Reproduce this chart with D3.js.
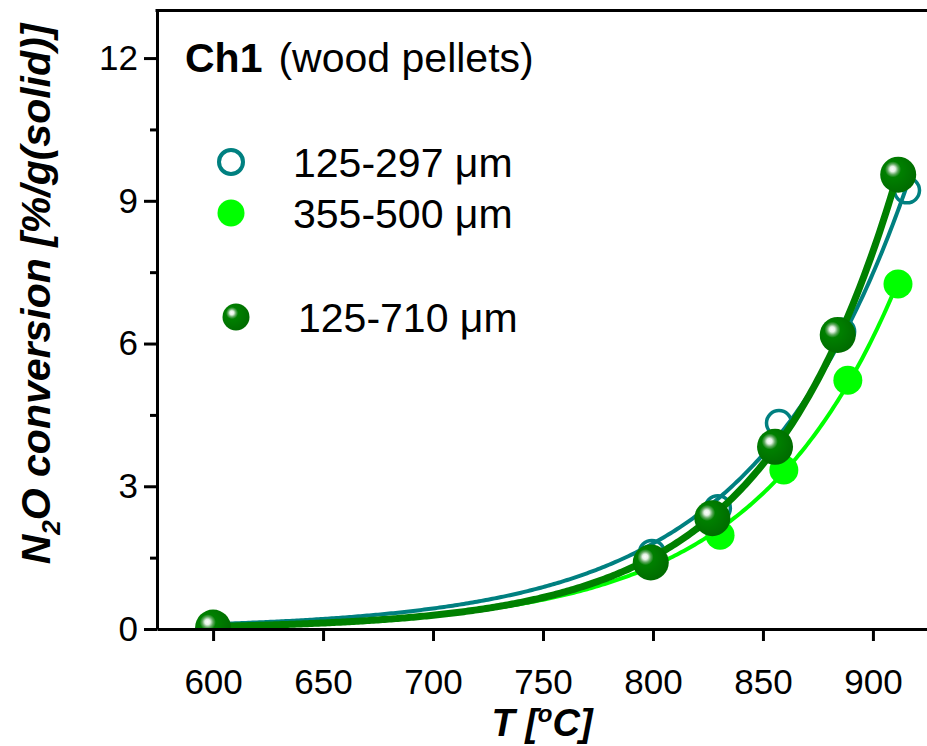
<!DOCTYPE html>
<html lang="en">
<head>
	<meta charset="UTF-8"/>
	<title>N2O conversion vs temperature</title>
	<script src="https://d3js.org/d3.v7.min.js"></script>
	<style>
		body { margin: 0; background: #fff; }
		text { font-family: Arial, "Liberation Sans", sans-serif; fill: #000; }
	</style>
</head>
<body>
<script>
	//Size of the svg container
	var w = 927;
	var h = 746;

	//Data: temperature (oC) and N2O conversion (%/g solid)
	var tempSmall = [600, 799.5, 829.5, 857.3, 886, 915.5];
	var convSmall = [0.03, 1.6, 2.54, 4.33, 6.25, 9.22];

	var tempMid = [600, 800, 830.5, 859.5, 888.6, 911.4];
	var convMid = [0.03, 1.38, 1.97, 3.34, 5.23, 7.25];

	var tempWide = [600, 799, 827, 855.5, 884, 911.5];
	var convWide = [0.03, 1.4, 2.33, 3.83, 6.18, 9.55];

	var seriesNames = ["125-297 \u03bcm", "355-500 \u03bcm", "125-710 \u03bcm"];

	var xTicks = [600, 650, 700, 750, 800, 850, 900];
	var yTicks = [0, 3, 6, 9, 12];
	var yMinorTicks = [1.5, 4.5, 7.5, 10.5];

	//Scales
	var xScale = d3.scaleLinear()
					.domain([574.5, 925.5])
					.range([157, 929]);

	var yScale = d3.scaleLinear()
					.domain([0, 13])
					.range([629, 10.5]);

	var svg = d3.select("body")
				.append("svg")
				.attr("width", w)
				.attr("height", h);

	var defs = svg.append("defs");

	//Clip the marks to the plot area (points at 600 sit on the axis)
	defs.append("clipPath")
		.attr("id", "plotclip")
		.append("rect")
		.attr("x", xScale(574.5))
		.attr("y", yScale(13))
		.attr("width", w - xScale(574.5))
		.attr("height", yScale(0) - yScale(13));

	//Shiny ball for the 125-710 series
	var grad = defs.append("radialGradient")
		.attr("id", "ball")
		.attr("cx", "38%").attr("cy", "38%").attr("r", "62%")
		.attr("fx", "34%").attr("fy", "34%");
	grad.append("stop").attr("offset", "0%").attr("stop-color", "#ffffff");
	grad.append("stop").attr("offset", "12%").attr("stop-color", "#e6f2e6");
	grad.append("stop").attr("offset", "24%").attr("stop-color", "#5fa85f");
	grad.append("stop").attr("offset", "36%").attr("stop-color", "#008000");
	grad.append("stop").attr("offset", "100%").attr("stop-color", "#006c00");

	//Exponential fit y = a*exp(b*(x - x0)) of each series, least squares on y
	function fitExp(xs, ys) {
		var x0 = xs[0];
		var best = { a: 0, b: 0, err: Infinity };
		for (var b = 0.002; b < 0.05; b += 0.00002) {
			var num = 0, den = 0;
			for (var i = 0; i < xs.length; i++) {
				var e = Math.exp(b * (xs[i] - x0));
				num += ys[i] * e;
				den += e * e;
			}
			var a = num / den;
			var err = 0;
			for (var j = 0; j < xs.length; j++) {
				var r = ys[j] - a * Math.exp(b * (xs[j] - x0));
				err += r * r;
			}
			if (err < best.err) best = { a: a, b: b, err: err };
		}
		return d3.range(x0, xs[xs.length - 1] + 0.5, 1).map(function(x) {
			return [x, best.a * Math.exp(best.b * (x - x0))];
		});
	}

	var line = d3.line()
		.x(function(d) { return xScale(d[0]); })
		.y(function(d) { return yScale(d[1]); });

	var plot = svg.append("g").attr("clip-path", "url(#plotclip)");

	//125-297 um: teal open circles
	plot.append("path")
		.datum(fitExp(tempSmall, convSmall))
		.attr("d", line)
		.attr("fill", "none")
		.attr("stroke", "#008080")
		.attr("stroke-width", 4);

	plot.selectAll(".small")
		.data(d3.zip(tempSmall, convSmall))
		.enter()
		.append("circle")
		.attr("class", "small")
		.attr("cx", function(d) { return xScale(d[0]); })
		.attr("cy", function(d) { return yScale(d[1]); })
		.attr("r", 12.5)
		.attr("fill", "none")
		.attr("stroke", "#008080")
		.attr("stroke-width", 3.5);

	//355-500 um: lime filled circles
	plot.append("path")
		.datum(fitExp(tempMid, convMid))
		.attr("d", line)
		.attr("fill", "none")
		.attr("stroke", "#00ff00")
		.attr("stroke-width", 4);

	plot.selectAll(".mid")
		.data(d3.zip(tempMid, convMid))
		.enter()
		.append("circle")
		.attr("class", "mid")
		.attr("cx", function(d) { return xScale(d[0]); })
		.attr("cy", function(d) { return yScale(d[1]); })
		.attr("r", 14.5)
		.attr("fill", "#00ff00");

	//125-710 um: dark green balls
	plot.append("path")
		.datum(fitExp(tempWide, convWide))
		.attr("d", line)
		.attr("fill", "none")
		.attr("stroke", "#008000")
		.attr("stroke-width", 7);

	plot.selectAll(".wide")
		.data(d3.zip(tempWide, convWide))
		.enter()
		.append("circle")
		.attr("class", "wide")
		.attr("cx", function(d) { return xScale(d[0]); })
		.attr("cy", function(d) { return yScale(d[1]); })
		.attr("r", 18)
		.attr("fill", "url(#ball)");

	//Axes
	var xAxis = d3.axisBottom(xScale)
		.tickValues(xTicks)
		.tickSize(12)
		.tickSizeOuter(0)
		.tickPadding(28);

	var yAxis = d3.axisLeft(yScale)
		.tickValues(yTicks)
		.tickSize(13)
		.tickSizeOuter(0)
		.tickPadding(6);

	var yMinor = d3.axisLeft(yScale)
		.tickValues(yMinorTicks)
		.tickSize(7)
		.tickSizeOuter(0)
		.tickFormat("");

	var gx = svg.append("g")
		.attr("transform", "translate(0," + yScale(0) + ")")
		.call(xAxis);

	var gy = svg.append("g")
		.attr("transform", "translate(" + xScale(574.5) + ",0)")
		.call(yAxis);

	var gm = svg.append("g")
		.attr("transform", "translate(" + xScale(574.5) + ",0)")
		.call(yMinor);
	gm.select(".domain").remove();

	[gx, gy, gm].forEach(function(g) {
		g.selectAll("path, line").attr("stroke", "#000").attr("stroke-width", 3);
		g.selectAll("text")
			.attr("fill", "#000")
			.style("font-size", "35px")
			.style("font-family", "Arial, 'Liberation Sans', sans-serif");
	});

	//Top frame line
	svg.append("line")
		.attr("x1", xScale(574.5) - 1.5)
		.attr("x2", w)
		.attr("y1", yScale(13))
		.attr("y2", yScale(13))
		.attr("stroke", "#000")
		.attr("stroke-width", 3);

	//Title
	var title = svg.append("text")
		.attr("x", 185)
		.attr("y", 72)
		.style("font-size", "41px");
	title.append("tspan").attr("font-weight", "bold").text("Ch1");
	title.append("tspan").attr("dx", 16).text("(wood pellets)");

	//Legend
	var legend = svg.append("g");
	legend.append("circle")
		.attr("cx", 231).attr("cy", 162).attr("r", 12)
		.attr("fill", "none").attr("stroke", "#008080").attr("stroke-width", 4);
	legend.append("circle")
		.attr("cx", 231).attr("cy", 213).attr("r", 13.5)
		.attr("fill", "#00ff00");
	legend.append("circle")
		.attr("cx", 236).attr("cy", 317).attr("r", 13.5)
		.attr("fill", "url(#ball)");

	legend.selectAll("text")
		.data(seriesNames)
		.enter()
		.append("text")
		.attr("x", function(d, i) { return i == 2 ? 298 : 293; })
		.attr("y", function(d, i) { return [177, 228, 332][i]; })
		.style("font-size", "41px")
		.text(function(d) { return d; });

	//x-axis label
	var xLabel = svg.append("text")
		.attr("x", 542)
		.attr("y", 736)
		.attr("text-anchor", "middle")
		.attr("font-weight", "bold")
		.attr("font-style", "italic")
		.style("font-size", "38px");
	xLabel.append("tspan").text("T [");
	xLabel.append("tspan").attr("dy", -14).style("font-size", "24px").text("o");
	xLabel.append("tspan").attr("dy", 14).text("C]");

	//y-axis label
	var yLabel = svg.append("text")
		.attr("text-anchor", "middle")
		.attr("transform", "translate(50,294) rotate(-90)")
		.attr("font-weight", "bold")
		.attr("font-style", "italic")
		.style("font-size", "41px");
	yLabel.append("tspan").text("N");
	yLabel.append("tspan").attr("dy", 10).style("font-size", "26px").text("2");
	yLabel.append("tspan").attr("dy", -10).text("O conversion [%/g(solid)]");
</script>
</body>
</html>
